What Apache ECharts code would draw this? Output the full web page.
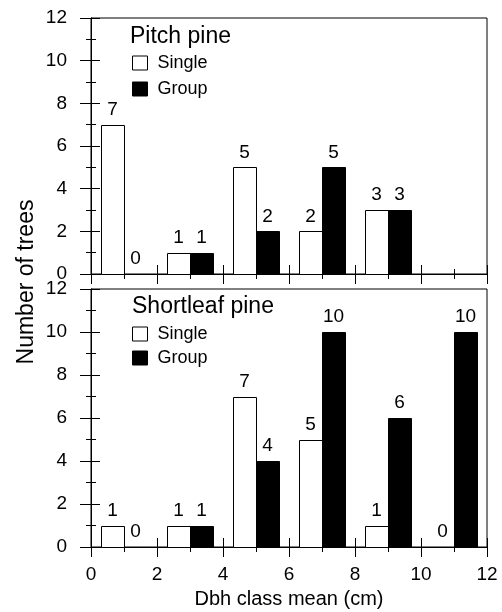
<!DOCTYPE html>
<html><head><meta charset="utf-8">
<script src="https://cdn.jsdelivr.net/npm/echarts@6/dist/echarts.min.js"></script>
<style>html,body{margin:0;padding:0;background:#fff}#c{width:502px;height:612px}</style>
</head><body><div id="c"></div>
<script>
// ---- data ----
const classCenters = [1, 3, 5, 7, 9, 11];
const xTickLabels = ['0', '2', '4', '6', '8', '10', '12'];
const yTickLabels = ['0', '2', '4', '6', '8', '10', '12'];
const pitchSingle = [7, 1, 5, 2, 3, null];
const pitchGroup = [0, 1, 2, 5, 3, null];
const shortSingle = [1, 1, 7, 5, 1, 0];
const shortGroup = [0, 1, 4, 10, 6, 10];
const panelNames = ['Pitch pine', 'Shortleaf pine'];
const seriesNames = ['Single', 'Group'];
const yAxisTitle = 'Number of trees';
const xAxisTitle = 'Dbh class mean (cm)';

// ---- styling ----
const FONT = '"Liberation Sans", Arial, Helvetica, sans-serif';
const BAR_W = 0.7;
const BLACK = '#000';

function xAxes(gi, withLabels) {
  const base = {
    gridIndex: gi, type: 'value', min: 0, max: 12, interval: 2, position: 'bottom',
    axisLine: { onZero: false, lineStyle: { color: BLACK, width: 1 } },
    splitLine: { show: false },
    minorTick: { show: true, splitNumber: 2, length: 5, lineStyle: { color: BLACK, width: 1 } }
  };
  return [
    Object.assign({}, base, {
      axisTick: { show: true, inside: false, length: 10, lineStyle: { color: BLACK, width: 1 } },
      axisLabel: {
        show: withLabels, margin: 18, color: BLACK, fontSize: 19, fontFamily: FONT,
        formatter: v => xTickLabels[Math.round(v / 2)]
      },
      name: withLabels ? xAxisTitle : '', nameLocation: 'middle', nameGap: 42,
      nameTextStyle: { color: BLACK, fontSize: 20, fontFamily: FONT }
    }),
    Object.assign({}, base, {
      axisTick: { show: true, inside: true, length: 9, lineStyle: { color: BLACK, width: 1 } },
      axisLabel: { show: false }
    })
  ];
}
function yAxes(gi) {
  const base = {
    gridIndex: gi, type: 'value', min: 0, max: 12, interval: 2, position: 'left',
    axisLine: { show: true, onZero: false, lineStyle: { color: BLACK, width: 1 } },
    splitLine: { show: false },
    minorTick: { show: true, splitNumber: 2, length: 5, lineStyle: { color: BLACK, width: 1 } }
  };
  return [
    Object.assign({}, base, {
      axisTick: { show: true, inside: false, length: 11, lineStyle: { color: BLACK, width: 1 } },
      axisLabel: {
        show: true, margin: 24, color: BLACK, fontSize: 19, fontFamily: FONT,
        formatter: v => yTickLabels[Math.round(v / 2)]
      }
    }),
    Object.assign({}, base, {
      axisTick: { show: true, inside: true, length: 9, lineStyle: { color: BLACK, width: 1 } },
      axisLabel: { show: false }
    })
  ];
}

function barSeries(name, gi, values, side, fill) {
  const data = [];
  values.forEach((v, i) => { if (v !== null) data.push([classCenters[i], v]); });
  return {
    type: 'custom', name: name, xAxisIndex: gi * 2, yAxisIndex: gi * 2, data: data, clip: false, z: 3,
    renderItem: function (params, api) {
      const c = api.value(0), v = api.value(1);
      const x0 = side < 0 ? c - BAR_W : c;
      const tl = api.coord([x0, v]);
      const br = api.coord([x0 + BAR_W, 0]);
      const L = Math.round(tl[0]) + 0.5, R = Math.round(br[0]) + 0.5;
      const T = Math.round(tl[1]) + 0.5, B = Math.round(br[1]) + 0.5;
      const children = [];
      if (v > 0) {
        children.push({ type: 'rect', shape: { x: L, y: T, width: R - L, height: B - T },
          style: { fill: fill, stroke: BLACK, lineWidth: 1 } });
      }
      children.push({ type: 'text', style: { text: String(v), x: (tl[0] + br[0]) / 2, y: tl[1] - 15,
        align: 'center', verticalAlign: 'middle', fill: BLACK, fontSize: 19, fontFamily: FONT } });
      return { type: 'group', children: children };
    }
  };
}

function legendFor(top, gap) {
  return {
    left: 132, top: top, orient: 'vertical', padding: 0, itemGap: gap, itemWidth: 15, itemHeight: 14,
    selectedMode: false, icon: 'rect',
    data: [
      { name: seriesNames[0], itemStyle: { color: '#fff', borderColor: BLACK, borderWidth: 1 } },
      { name: seriesNames[1], itemStyle: { color: BLACK, borderColor: BLACK, borderWidth: 1 } }
    ],
    textStyle: { fontSize: 18, fontFamily: FONT, color: BLACK, padding: [0, 0, 0, 5] }
  };
}

const chart = echarts.init(document.getElementById('c'), null, { renderer: 'canvas' });
chart.setOption({
  backgroundColor: '#fff',
  animation: false,
  title: [
    { text: panelNames[0], left: 130, top: 25, padding: 0,
      textStyle: { fontSize: 23, fontWeight: 'normal', fontFamily: FONT, color: BLACK } },
    { text: panelNames[1], left: 132, top: 295, padding: 0,
      textStyle: { fontSize: 23, fontWeight: 'normal', fontFamily: FONT, color: BLACK } }
  ],
  legend: [legendFor(54, 8), legendFor(325, 6)],
  grid: [
    { left: 91, top: 18, width: 396, height: 256, show: true, borderColor: BLACK, borderWidth: 1, backgroundColor: 'transparent' },
    { left: 91, top: 289, width: 396, height: 258, show: true, borderColor: BLACK, borderWidth: 1, backgroundColor: 'transparent' }
  ],
  xAxis: xAxes(0, false).concat(xAxes(1, true)),
  yAxis: yAxes(0).concat(yAxes(1)),
  series: [
    barSeries(seriesNames[0], 0, pitchSingle, -1, '#fff'),
    barSeries(seriesNames[1], 0, pitchGroup, 1, BLACK),
    barSeries(seriesNames[0], 1, shortSingle, -1, '#fff'),
    barSeries(seriesNames[1], 1, shortGroup, 1, BLACK)
  ],
  graphic: [
    { type: 'text', x: 27, y: 282, rotation: Math.PI / 2,
      style: { text: yAxisTitle, align: 'center', verticalAlign: 'middle', fill: BLACK, fontSize: 23, fontFamily: FONT } }
  ]
});
</script></body></html>
